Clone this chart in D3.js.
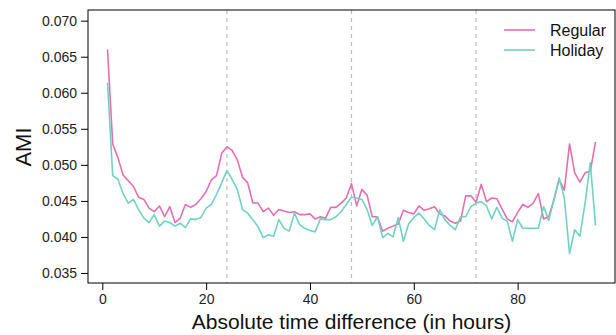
<!DOCTYPE html>
<html>
<head>
<meta charset="utf-8">
<script src="https://cdn.jsdelivr.net/npm/d3@7"></script>
<style>
  body { margin: 0; background: #fff; }
  text { font-family: "Liberation Sans", Arial, sans-serif; }
</style>
</head>
<body>
<div id="chart"></div>
<script>
// data: hours 1..95
var hours = d3.range(1, 96);
var regular = [
  0.0660, 0.0529, 0.0510, 0.0486, 0.0478, 0.0470, 0.0455, 0.0452, 0.0440, 0.0435,
  0.0443, 0.0428, 0.0442, 0.0420, 0.0426, 0.0445, 0.0441, 0.0445, 0.0453, 0.0463,
  0.0479, 0.0485, 0.0516, 0.0525, 0.0520, 0.0507, 0.0483, 0.0475, 0.0447, 0.0447,
  0.0435, 0.0440, 0.0430, 0.0438, 0.0436, 0.0434, 0.0435, 0.0431, 0.0431, 0.0432,
  0.0425, 0.0428, 0.0426, 0.0441, 0.0441, 0.0447, 0.0454, 0.0474, 0.0443, 0.0466,
  0.0458, 0.0428, 0.0428, 0.0408, 0.0412, 0.0415, 0.0418, 0.0437, 0.0434, 0.0432,
  0.0443, 0.0437, 0.0439, 0.0442, 0.0432, 0.0429, 0.0422, 0.0419, 0.0422, 0.0457,
  0.0457, 0.0448, 0.0473, 0.0449, 0.0454, 0.0453, 0.0439, 0.0425, 0.0421, 0.0434,
  0.0445, 0.0441, 0.0447, 0.0460, 0.0425, 0.0428, 0.0452, 0.0479, 0.0465, 0.0529,
  0.0489, 0.0476, 0.0489, 0.0491, 0.0532
];
var holiday = [
  0.0614, 0.0485, 0.0480, 0.0460, 0.0447, 0.0452, 0.0438, 0.0426, 0.0420, 0.0431,
  0.0415, 0.0422, 0.0420, 0.0415, 0.0419, 0.0413, 0.0425, 0.0424, 0.0427, 0.0440,
  0.0445, 0.0459, 0.0475, 0.0492, 0.0480, 0.0466, 0.0438, 0.0433, 0.0424, 0.0414,
  0.0399, 0.0403, 0.0401, 0.0424, 0.0412, 0.0408, 0.0433, 0.0417, 0.0412, 0.0409,
  0.0407, 0.0425, 0.0424, 0.0424, 0.0428, 0.0435, 0.0445, 0.0455, 0.0454, 0.0452,
  0.0438, 0.0416, 0.0428, 0.0399, 0.0405, 0.0400, 0.0427, 0.0394, 0.0418, 0.0427,
  0.0433, 0.0425, 0.0416, 0.0410, 0.0438, 0.0424, 0.0416, 0.0410, 0.0428, 0.0428,
  0.0442, 0.0447, 0.0449, 0.0443, 0.0425, 0.0441, 0.0426, 0.0422, 0.0394, 0.0424,
  0.0412, 0.0412, 0.0412, 0.0412, 0.0442, 0.0423, 0.0452, 0.0482, 0.0454, 0.0377,
  0.0410, 0.0401, 0.0447, 0.0503, 0.0416
];
var seriesNames = ["Regular", "Holiday"];
var seriesColors = ["#e46fb0", "#72d2c2"];
var xTicks = [0, 20, 40, 60, 80];
var yTicks = [0.035, 0.040, 0.045, 0.050, 0.055, 0.060, 0.065, 0.070];
var dayLines = [24, 48, 72];

var W = 616, H = 335;
var margin = {top: 10, right: 1, bottom: 52, left: 88};

var svg = d3.select("#chart")
  .append("svg")
    .attr("width", W)
    .attr("height", H);

var x = d3.scaleLinear()
  .domain([-2.76, 98.76])
  .range([margin.left, W - margin.right]);

var y = d3.scaleLinear()
  .domain([0.03361, 0.07148])
  .range([H - margin.bottom, margin.top]);

// dashed day markers
svg.selectAll(".day")
  .data(dayLines)
  .enter().append("line")
    .attr("x1", function(d) { return x(d); })
    .attr("x2", function(d) { return x(d); })
    .attr("y1", y.range()[1])
    .attr("y2", y.range()[0])
    .attr("stroke", "#bdbdbd")
    .attr("stroke-width", 1.2)
    .attr("stroke-dasharray", "4,4");

// lines
var line = d3.line()
  .x(function(d, i) { return x(hours[i]); })
  .y(function(d) { return y(d); });

[regular, holiday].forEach(function(vals, k) {
  svg.append("path")
    .datum(vals)
    .attr("fill", "none")
    .attr("stroke", seriesColors[k])
    .attr("stroke-width", 1.6)
    .attr("stroke-linejoin", "round")
    .attr("d", line);
});

// box
svg.append("rect")
  .attr("x", x.range()[0])
  .attr("y", y.range()[1])
  .attr("width", x.range()[1] - x.range()[0])
  .attr("height", y.range()[0] - y.range()[1])
  .attr("fill", "none")
  .attr("stroke", "#000")
  .attr("stroke-width", 1);

// axes
var xAxis = svg.append("g")
  .attr("transform", "translate(0," + y.range()[0] + ")")
  .call(d3.axisBottom(x).tickValues(xTicks).tickSize(7).tickPadding(4));
var yAxis = svg.append("g")
  .attr("transform", "translate(" + x.range()[0] + ",0)")
  .call(d3.axisLeft(y).tickValues(yTicks).tickFormat(d3.format(".3f")).tickSize(7).tickPadding(4));

[xAxis, yAxis].forEach(function(a) {
  a.select(".domain").remove();
  a.selectAll("text")
    .style("font-size", "14px")
    .attr("fill", "#222");
  a.selectAll("line").attr("stroke", "#000");
});

// axis titles
svg.append("text")
  .attr("x", 351.5)
  .attr("y", 329)
  .attr("text-anchor", "middle")
  .style("font-size", "21px")
  .attr("fill", "#111")
  .text("Absolute time difference (in hours)");

svg.append("text")
  .attr("transform", "translate(31,147) rotate(-90)")
  .attr("text-anchor", "middle")
  .style("font-size", "22px")
  .attr("fill", "#111")
  .text("AMI");

// legend
var legend = svg.selectAll(".legend")
  .data(seriesNames)
  .enter().append("g")
    .attr("transform", function(d, i) { return "translate(504," + (30 + i * 20) + ")"; });

legend.append("line")
  .attr("x1", 0).attr("x2", 31)
  .attr("stroke", function(d, i) { return seriesColors[i]; })
  .attr("stroke-width", 1.6);

legend.append("text")
  .attr("x", 46)
  .attr("dy", "0.35em")
  .style("font-size", "16px")
  .attr("fill", "#111")
  .text(function(d) { return d; });
</script>
</body>
</html>
